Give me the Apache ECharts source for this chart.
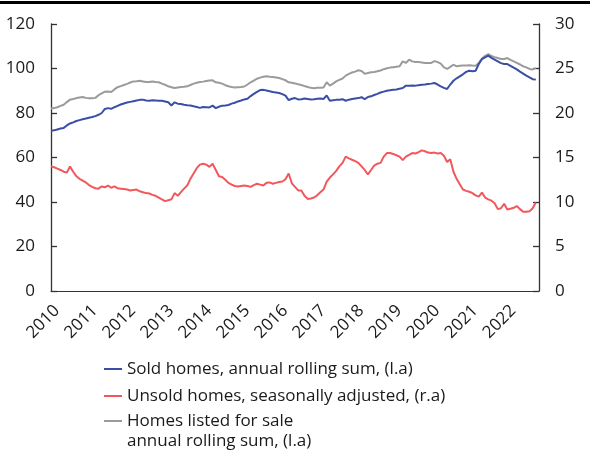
<!DOCTYPE html>
<html>

<head>
    <meta charset="utf-8" />
    <title>Homes sold, listed and unsold</title>
    <script src="https://cdn.jsdelivr.net/npm/echarts@6/dist/echarts.min.js"></script>
    <style>
        html, body { margin: 0; padding: 0; background: #fff; }
        #main { width: 590px; height: 455px; }
    </style>
</head>

<body>
    <div id="main"></div>
    <script type="text/javascript">
        // monthly, Jan 2010 - Oct 2022 (axis runs to Nov 2022)
        var years = ['2010', '2011', '2012', '2013', '2014', '2015', '2016', '2017', '2018', '2019', '2020', '2021', '2022'];
        var monthsOnAxis = 155;

        // thousands, left axis
        var soldHomes = [
            72.0, 72.2, 72.6, 73.0, 73.3, 74.4, 75.3, 75.8, 76.4, 76.8,
            77.2, 77.5, 77.9, 78.2, 78.6, 79.2, 80.0, 81.8, 82.2, 81.9,
            82.6, 83.2, 83.8, 84.3, 84.7, 85.0, 85.3, 85.6, 85.9, 86.0,
            85.6, 85.5, 85.7, 85.6, 85.5, 85.5, 85.2, 84.8, 83.4,
            84.8, 84.2, 84.0, 83.7, 83.5, 83.4, 83.0, 82.7, 82.3, 82.7,
            82.6, 82.5, 83.3, 82.2, 82.8, 83.3, 83.4, 83.6, 84.2, 84.6,
            85.2, 85.6, 86.1, 86.4, 87.6, 88.6, 89.5, 90.3, 90.4, 90.1,
            89.8, 89.4, 89.2, 89.0, 88.5, 87.8, 85.8, 86.4, 86.7, 86.1,
            86.2, 86.5, 86.3, 86.1, 86.2, 86.4, 86.5, 86.3, 87.9, 85.5,
            85.7, 85.9, 86.0, 86.2, 85.5, 86.0, 86.3, 86.5, 86.7, 87.1,
            86.2, 87.2, 87.5, 88.1, 88.6, 89.2, 89.6, 90.0, 90.2, 90.4,
            90.6, 90.9, 91.2, 92.3, 92.3, 92.4, 92.3, 92.5, 92.7,
            92.8, 93.0, 93.2, 93.5, 92.8, 92.0, 91.3, 90.8, 92.8, 94.5,
            95.6, 96.5, 97.4, 98.5, 99.0, 98.8, 99.0, 102.0, 104.2, 105.0,
            105.8, 104.8, 104.0, 103.2, 102.4, 102.0, 102.0, 101.2, 100.4, 99.6,
            98.6, 97.7, 96.8, 96.0, 95.2, 95.0
        ];

        // thousands, left axis
        var listedHomes = [
            82.0, 82.2, 82.6, 83.2, 83.7, 84.9, 86.0, 86.3, 86.7, 87.0,
            87.2, 86.8, 86.6, 86.6, 86.8, 88.0, 88.8, 89.6, 89.7, 89.4,
            90.6, 91.6, 92.1, 92.6, 93.1, 93.7, 94.2, 94.3, 94.5, 94.2,
            93.9, 93.9, 94.2, 93.9, 93.8, 93.2, 92.7, 92.0, 91.6,
            91.2, 91.5, 91.7, 91.8, 92.0, 92.6, 93.2, 93.6, 93.9, 94.1,
            94.4, 94.6, 94.7, 93.8, 93.6, 93.2, 92.5, 92.0, 91.7, 91.5,
            91.6, 91.7, 91.9, 92.8, 93.8, 94.6, 95.4, 95.9, 96.3, 96.5,
            96.3, 96.2, 96.0, 95.7, 95.2, 94.7, 93.8, 93.6, 93.3, 92.9,
            92.6, 92.1, 91.7, 91.3, 91.1, 91.3, 91.4, 91.5, 93.8, 92.3,
            93.2, 94.2, 94.9, 95.5, 96.8, 97.6, 98.2, 98.6, 99.2, 98.9,
            97.6, 98.0, 98.3, 98.4, 98.8, 99.1, 99.7, 100.1, 100.4, 100.6,
            100.8, 101.0, 103.2, 102.5, 104.0, 103.2, 102.9, 102.9, 102.7,
            102.5, 102.5, 102.5, 103.3, 102.9, 102.2, 100.5, 99.8, 100.7, 101.7,
            101.0, 101.2, 101.4, 101.4, 101.5, 101.3, 101.2, 102.5, 104.5, 105.7,
            106.5, 105.6, 105.1, 104.7, 104.3, 104.3, 104.7, 103.9, 103.2, 102.5,
            101.8, 101.0, 100.5, 99.8, 99.6, 100.2
        ];

        // thousands, right axis
        var unsoldHomes = [
            14.0, 13.9, 13.75, 13.6, 13.4, 13.3, 14.0, 13.4, 12.9, 12.6,
            12.4, 12.2, 11.9, 11.7, 11.55, 11.5, 11.75, 11.65, 11.85, 11.6,
            11.75, 11.55, 11.5, 11.45, 11.4, 11.3, 11.35, 11.4, 11.2, 11.1,
            11.0, 10.95, 10.8, 10.7, 10.5, 10.3, 10.1, 10.2, 10.3,
            11.0, 10.7, 11.1, 11.5, 11.85, 12.6, 13.2, 13.8, 14.2, 14.3,
            14.2, 13.95, 14.3, 13.6, 12.9, 12.8, 12.5, 12.15, 11.95, 11.8,
            11.75, 11.8, 11.85, 11.8, 11.7, 11.9, 12.05, 11.95, 11.85, 12.15,
            12.2, 12.05, 12.15, 12.25, 12.3, 12.55, 13.2, 12.1, 11.7, 11.3,
            11.3, 10.7, 10.35, 10.4, 10.5, 10.75, 11.1, 11.4, 12.3, 12.75,
            13.1, 13.5, 14.0, 14.4, 15.1, 14.9, 14.75, 14.6, 14.4, 14.0,
            13.6, 13.1, 13.6, 14.1, 14.3, 14.4, 15.1, 15.5, 15.5, 15.4,
            15.25, 15.1, 14.7, 15.1, 15.3, 15.5, 15.45, 15.6, 15.8,
            15.7, 15.55, 15.5, 15.55, 15.45, 15.5, 15.2, 14.5, 14.8, 13.4,
            12.6, 12.0, 11.4, 11.25, 11.15, 11.0, 10.75, 10.6, 11.05, 10.5,
            10.3, 10.15, 9.85, 9.2, 9.3, 9.8, 9.15, 9.25, 9.35, 9.55,
            9.2, 8.9, 8.9, 8.95, 9.3, 9.95
        ];

        var seriesNames = [
            'Sold homes, annual rolling sum, (l.a)',
            'Unsold homes, seasonally adjusted, (r.a)',
            'Homes listed for sale\nannual rolling sum, (l.a)'
        ];
        var colors = ['#3a4ea6', '#f2575c', '#9b9b9b'];

        // category per month, label only on January
        var months = [];
        for (var i = 0; i < monthsOnAxis; i++) {
            var y = years[Math.floor(i / 12)];
            months.push(i % 12 === 0 ? y : y + '-' + (i % 12 + 1));
        }

        var fontFam = '"Open Sans", "Noto Sans", sans-serif';
        var axisColor = '#333';
        var txtColor = '#1a1a1a';
        var legendText = { fontFamily: fontFam, fontSize: 17, color: txtColor, lineHeight: 20 };

        var myChart = echarts.init(document.getElementById('main'), null, { renderer: 'canvas' });

        var option = {
            animation: false,
            color: colors,
            textStyle: { fontFamily: fontFam },
            grid: {
                left: 51,
                right: 51,
                top: 24,
                bottom: 164,
                containLabel: false,
                outerBoundsMode: 'none'
            },
            graphic: [{
                type: 'rect',
                left: 0,
                top: 1,
                shape: { width: 590, height: 3 },
                style: { fill: '#000' }
            }],
            legend: [{
                orient: 'vertical',
                left: 104,
                top: 359,
                padding: 0,
                itemGap: 7,
                itemWidth: 18,
                itemHeight: 2,
                icon: 'rect',
                selectedMode: false,
                data: [seriesNames[0], seriesNames[1]],
                textStyle: legendText
            }, {
                // two-line entry: empty first line keeps the icon level with "Homes listed..."
                orient: 'vertical',
                left: 104,
                top: 391,
                padding: 0,
                itemWidth: 18,
                itemHeight: 2,
                icon: 'rect',
                selectedMode: false,
                data: [seriesNames[2]],
                formatter: function (name) { return '\n' + name; },
                textStyle: legendText
            }],
            xAxis: {
                type: 'category',
                data: months,
                boundaryGap: false,
                axisLine: { lineStyle: { color: axisColor, width: 1 } },
                axisTick: { show: false },
                splitLine: { show: false },
                axisLabel: {
                    rotate: 45,
                    margin: 11,
                    verticalAlign: 'top',
                    color: txtColor,
                    fontSize: 17,
                    fontFamily: fontFam,
                    interval: function (idx) { return idx % 12 === 0; },
                    formatter: function (v) { return v.slice(0, 4); }
                }
            },
            yAxis: [{
                type: 'value',
                min: 0,
                max: 120,
                interval: 20,
                axisLine: { show: true, lineStyle: { color: axisColor, width: 1.3 } },
                axisTick: { show: true, inside: true, length: 6, lineStyle: { color: axisColor, width: 1.3 } },
                splitLine: { show: false },
                axisLabel: { margin: 16, color: txtColor, fontSize: 17, fontFamily: fontFam }
            }, {
                type: 'value',
                min: 0,
                max: 30,
                interval: 5,
                axisLine: { show: true, lineStyle: { color: axisColor, width: 1.3 } },
                axisTick: { show: true, inside: true, length: 6, lineStyle: { color: axisColor, width: 1.3 } },
                splitLine: { show: false },
                axisLabel: { margin: 16, color: txtColor, fontSize: 17, fontFamily: fontFam }
            }],
            series: [{
                name: seriesNames[0],
                type: 'line',
                yAxisIndex: 0,
                symbol: 'none',
                lineStyle: { width: 2, color: colors[0] },
                data: soldHomes,
                z: 3
            }, {
                name: seriesNames[1],
                type: 'line',
                yAxisIndex: 1,
                symbol: 'none',
                lineStyle: { width: 2, color: colors[1] },
                data: unsoldHomes,
                z: 2
            }, {
                name: seriesNames[2],
                type: 'line',
                yAxisIndex: 0,
                symbol: 'none',
                lineStyle: { width: 2, color: colors[2] },
                data: listedHomes,
                z: 1
            }]
        };

        myChart.setOption(option);
    </script>
</body>

</html>
